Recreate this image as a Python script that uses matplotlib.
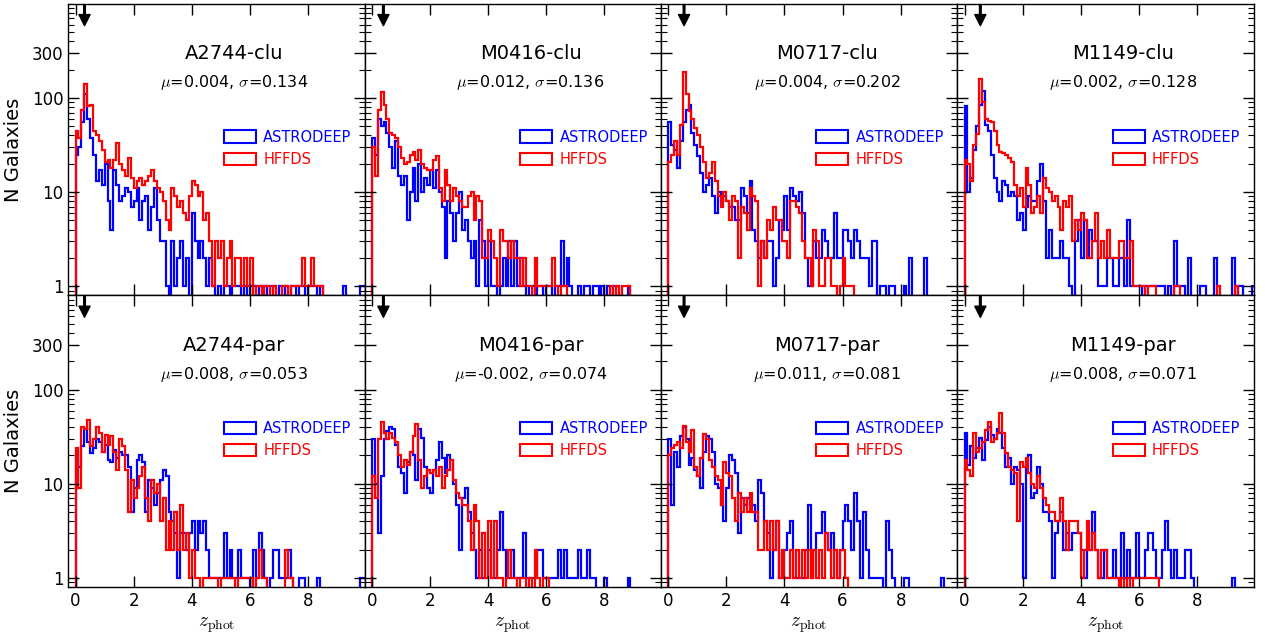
import numpy as np
import matplotlib.pyplot as plt
from matplotlib.patches import Patch
from matplotlib.ticker import LogLocator, NullFormatter

plt.rcParams['mathtext.fontset'] = 'cm'

# --- podaci (ocitani s grafa), binovi sirine 0.1 od z=0 ---
bin_width = 0.1
fields = ['A2744', 'M0416', 'M0717', 'M1149']
z_cluster = [0.308, 0.396, 0.545, 0.543]
mu_clu = [0.004, 0.012, 0.004, 0.002]
sigma_clu = [0.134, 0.136, 0.202, 0.128]
mu_par = [0.008, -0.002, 0.011, 0.008]
sigma_par = [0.053, 0.074, 0.081, 0.071]

a2744_clu_astrodeep = [
    25, 30, 55, 110, 60, 38, 25, 13, 17, 12,
    20, 8, 4, 17, 12, 8, 9, 11, 10, 7,
    8, 11, 5, 8, 9, 4, 7, 11, 5, 3,
    3, 1, 0, 3, 1, 2, 3, 1, 2, 0,
    6, 3, 2, 3, 2, 1, 2, 1, 0, 1,
    0, 1, 1, 0, 1, 1, 1, 0, 1, 0,
    1, 1, 0, 1, 0, 1, 0, 1, 1, 0,
    1, 0, 1, 0, 1, 1, 0, 1, 1, 0,
    1, 1, 1, 0, 1, 0, 0, 0, 0, 0,
    0, 0, 1, 0, 0, 0, 0, 0, 1, 1]
a2744_clu_hffds = [
    45, 38, 75, 141, 82, 85, 45, 40, 35, 28,
    21, 22, 18, 22, 33, 20, 17, 15, 23, 14,
    11, 13, 14, 12, 13, 15, 17, 13, 11, 10,
    8, 5, 4, 11, 9, 7, 8, 6, 5, 9,
    13, 12, 9, 10, 5, 6, 3, 1, 3, 2,
    3, 1, 2, 3, 1, 2, 2, 1, 2, 1,
    2, 0, 1, 1, 0, 1, 1, 0, 1, 0,
    0, 1, 1, 0, 1, 1, 1, 1, 2, 1,
    1, 2, 1, 1, 1]

m0416_clu_astrodeep = [
    38, 25, 60, 50, 55, 42, 30, 18, 35, 15,
    12, 15, 5, 10, 18, 8, 20, 10, 14, 12,
    17, 11, 17, 10, 7, 2, 8, 6, 3, 6,
    10, 4, 5, 3, 2, 3, 1, 5, 3, 1,
    3, 1, 1, 0, 1, 2, 1, 3, 1, 3,
    1, 2, 1, 0, 1, 1, 0, 1, 1, 0,
    1, 1, 0, 1, 1, 3, 1, 2, 1, 0,
    0, 1, 0, 1, 1, 0, 1, 1, 0, 1,
    0, 1, 0, 1, 1, 0, 0, 0, 1]
m0416_clu_hffds = [
    30, 15, 75, 115, 85, 60, 42, 40, 38, 30,
    23, 20, 21, 25, 27, 22, 28, 20, 18, 17,
    17, 22, 24, 11, 8, 17, 12, 8, 11, 9,
    8, 7, 7, 9, 10, 5, 9, 8, 2, 2,
    4, 3, 2, 1, 4, 3, 3, 2, 3, 2,
    2, 1, 2, 1, 1, 0, 2, 1, 1, 1,
    1, 1, 2, 1, 0, 1, 1, 0, 0, 0,
    0, 0, 0, 0, 0, 0, 0, 0, 0, 0,
    0, 0, 1, 0, 1, 0, 1, 1, 1]

m0717_clu_astrodeep = [
    55, 32, 28, 18, 35, 55, 75, 85, 42, 32,
    24, 16, 10, 12, 14, 9, 6, 10, 8, 9,
    8, 7, 7, 5, 5, 11, 9, 6, 13, 4,
    3, 2, 3, 2, 3, 3, 1, 2, 5, 4,
    9, 4, 11, 9, 8, 10, 6, 2, 1, 1,
    3, 2, 2, 4, 3, 2, 2, 6, 2, 2,
    4, 4, 3, 2, 4, 3, 2, 2, 2, 1,
    3, 3, 0, 1, 1, 0, 1, 1, 0, 0,
    0, 1, 0, 2, 0, 0, 0, 0, 2]
m0717_clu_hffds = [
    21, 25, 35, 25, 52, 190, 110, 73, 60, 48,
    40, 30, 21, 14, 16, 21, 13, 9, 7, 10,
    8, 5, 9, 8, 2, 7, 6, 4, 11, 9,
    8, 1, 3, 2, 5, 4, 7, 5, 5, 3,
    3, 2, 8, 8, 7, 6, 3, 2, 2, 1,
    4, 3, 1, 1, 2, 2, 1, 1, 0, 1,
    2, 1, 1, 1]

m1149_clu_astrodeep = [
    82, 10, 14, 28, 50, 85, 118, 52, 45, 25,
    14, 10, 8, 13, 12, 9, 10, 9, 5, 6,
    4, 7, 9, 8, 8, 13, 20, 8, 2, 4,
    2, 2, 2, 3, 2, 2, 1, 0, 3, 5,
    2, 5, 2, 4, 3, 3, 1, 1, 1, 2,
    2, 1, 1, 2, 2, 1, 5, 1, 1, 1,
    1, 0, 1, 1, 1, 1, 1, 1, 1, 0,
    1, 0, 3, 1, 1, 1, 0, 2, 0, 0,
    0, 1, 1, 0, 0, 0, 2, 0, 0, 0,
    0, 0, 2, 0, 1, 1, 0, 0, 0, 1]
m1149_clu_hffds = [
    22, 20, 13, 32, 41, 160, 90, 60, 57, 55,
    45, 32, 27, 26, 25, 23, 21, 12, 9, 11,
    7, 18, 12, 6, 7, 9, 6, 14, 11, 10,
    8, 9, 7, 4, 8, 7, 9, 3, 5, 4,
    6, 5, 2, 2, 3, 6, 2, 3, 2, 4,
    2, 2, 2, 3, 3, 2, 2, 3, 1, 1,
    1, 1, 0, 1, 1, 1, 0, 0, 0, 0,
    0, 0, 1, 1, 0, 0, 0, 0, 0, 0,
    0, 0, 0, 0, 0, 0, 0, 1, 0, 0,
    0, 0, 0, 1]

a2744_par_astrodeep = [
    22, 15, 25, 38, 28, 21, 24, 30, 28, 22,
    26, 18, 17, 23, 19, 22, 20, 20, 15, 5,
    9, 18, 20, 17, 5, 11, 9, 6, 8, 11,
    14, 12, 5, 4, 3, 1, 3, 3, 2, 3,
    4, 2, 4, 3, 4, 2, 1, 1, 1, 1,
    1, 3, 1, 2, 1, 1, 2, 1, 1, 1,
    0, 2, 1, 3, 2, 1, 0, 1, 2, 2,
    1, 1, 1, 2, 1, 0, 0, 1, 1, 0,
    0, 0, 0, 1, 0, 0, 0, 0, 0, 0,
    0, 0, 0, 0, 0, 0, 0, 0, 1, 1]
a2744_par_hffds = [
    24, 9, 40, 38, 48, 25, 30, 40, 35, 22,
    33, 26, 32, 22, 14, 30, 25, 14, 5, 11,
    7, 9, 12, 15, 7, 4, 11, 8, 10, 4,
    7, 2, 4, 2, 5, 2, 6, 2, 3, 1,
    2, 1, 1, 0, 1, 1, 1, 1, 1, 0,
    1, 1, 1, 1, 1, 0, 1, 1, 1, 1,
    1, 0, 1, 2, 1, 1, 0, 0, 0, 0,
    0, 0, 2, 1, 1]

m0416_par_astrodeep = [
    30, 10, 3, 12, 30, 36, 40, 38, 26, 15,
    13, 8, 17, 22, 20, 11, 38, 31, 15, 9,
    8, 14, 18, 28, 19, 13, 20, 18, 10, 6,
    2, 7, 9, 5, 3, 2, 1, 2, 1, 1,
    2, 1, 1, 2, 5, 2, 1, 1, 2, 1,
    1, 1, 3, 1, 1, 1, 1, 2, 2, 1,
    1, 1, 1, 1, 2, 1, 2, 1, 1, 1,
    1, 2, 1, 1, 2, 1, 1, 0, 0, 0,
    1, 0, 0, 0, 0, 0, 0, 0, 1]
m0416_par_hffds = [
    12, 7, 30, 45, 35, 30, 35, 31, 28, 20,
    15, 18, 16, 22, 32, 43, 18, 9, 12, 14,
    13, 14, 12, 15, 9, 12, 14, 18, 11, 8,
    7, 6, 6, 4, 2, 6, 4, 1, 3, 1,
    4, 1, 4, 1, 1, 0, 1, 2, 1, 1,
    0, 1, 1, 0, 1, 0, 2, 1, 0, 1,
    1]

m0717_par_astrodeep = [
    30, 6, 22, 15, 32, 40, 30, 16, 19, 14,
    12, 9, 22, 32, 30, 22, 10, 9, 6, 4,
    9, 20, 18, 13, 3, 7, 6, 7, 6, 6,
    4, 11, 8, 4, 3, 1, 2, 4, 1, 1,
    2, 3, 4, 1, 1, 1, 1, 2, 6, 1,
    2, 3, 3, 5, 3, 2, 3, 2, 1, 2,
    4, 6, 4, 2, 8, 4, 1, 5, 2, 1,
    1, 1, 1, 1, 0, 4, 2, 1, 0, 0,
    0, 1, 1, 0, 0, 0, 0, 0, 0, 0,
    0, 0, 0, 0, 1]
m0717_par_hffds = [
    20, 24, 26, 28, 24, 41, 28, 22, 37, 15,
    12, 19, 34, 30, 18, 15, 12, 11, 6, 17,
    13, 12, 7, 4, 8, 5, 7, 5, 8, 5,
    5, 2, 2, 4, 2, 4, 2, 4, 1, 2,
    1, 1, 2, 1, 2, 1, 2, 1, 2, 1,
    2, 1, 2, 1, 3, 2, 1, 2, 1, 2,
    2, 1]

m1149_par_astrodeep = [
    35, 16, 25, 19, 24, 31, 18, 29, 40, 33,
    30, 38, 35, 24, 15, 19, 10, 15, 14, 10,
    1, 16, 20, 7, 8, 15, 10, 5, 5, 4,
    1, 3, 4, 5, 2, 3, 2, 3, 3, 3,
    2, 1, 2, 2, 5, 2, 1, 1, 2, 1,
    1, 2, 1, 1, 3, 1, 2, 1, 1, 3,
    1, 1, 2, 3, 3, 2, 1, 1, 2, 4,
    2, 1, 2, 1, 1, 1, 2, 2, 1, 0,
    0, 0, 0, 0, 0, 0, 0, 0, 0, 0,
    0, 0, 1]
m1149_par_hffds = [
    18, 14, 12, 35, 22, 24, 28, 37, 45, 28,
    30, 35, 57, 35, 21, 15, 14, 13, 4, 17,
    15, 19, 13, 10, 9, 12, 9, 7, 6, 5,
    5, 4, 4, 7, 4, 2, 4, 4, 4, 3,
    1, 2, 4, 2, 3, 2, 1, 2, 2, 1,
    1, 1, 1, 0, 1, 0, 1, 0, 1, 1,
    1, 1, 1, 1, 1, 1, 1]

astrodeep_clu = [a2744_clu_astrodeep, m0416_clu_astrodeep, m0717_clu_astrodeep, m1149_clu_astrodeep]
hffds_clu = [a2744_clu_hffds, m0416_clu_hffds, m0717_clu_hffds, m1149_clu_hffds]
astrodeep_par = [a2744_par_astrodeep, m0416_par_astrodeep, m0717_par_astrodeep, m1149_par_astrodeep]
hffds_par = [a2744_par_hffds, m0416_par_hffds, m0717_par_hffds, m1149_par_hffds]


def draw_hist(ax, counts, color):
    counts = np.array(counts, dtype=float)
    edges = np.arange(len(counts) + 1) * bin_width
    # prazni binovi padaju ispod osi (log skala)
    shown = np.where(counts > 0, counts, 0.1)
    ax.stairs(shown, edges, baseline=0.1, color=color, lw=1.6)


fig, axes = plt.subplots(2, 4, figsize=(12.65, 6.34), dpi=100)
fig.subplots_adjust(left=0.054, right=0.991, bottom=0.074, top=0.994, wspace=0, hspace=0)

for row, (kind, astro, hffds, mus, sigs) in enumerate([
        ('clu', astrodeep_clu, hffds_clu, mu_clu, sigma_clu),
        ('par', astrodeep_par, hffds_par, mu_par, sigma_par)]):
    for col in range(4):
        ax = axes[row, col]
        draw_hist(ax, astro[col], 'b')
        draw_hist(ax, hffds[col], 'r')

        ax.set_yscale('log')
        ax.set_ylim(0.8, 1000)
        ax.set_xlim(-0.25, 9.95)
        ax.set_xticks([0, 2, 4, 6, 8])
        ax.set_yticks([1, 10, 100, 300], labels=['1', '10', '100', '300'])
        ax.yaxis.set_minor_locator(LogLocator(base=10, subs=np.arange(2, 10)))
        ax.yaxis.set_minor_formatter(NullFormatter())
        ax.tick_params(which='both', direction='in', top=True, right=True, labelsize=12)
        ax.tick_params(which='major', length=8, width=1)
        ax.tick_params(which='minor', length=4, width=0.8)
        for s in ax.spines.values():
            s.set_linewidth(1.0)

        if col > 0:
            ax.tick_params(labelleft=False)
        else:
            ax.set_ylabel('N Galaxies', fontsize=14, labelpad=6)
        if row == 0:
            ax.tick_params(labelbottom=False)
        else:
            ax.set_xlabel(r'$z_{\rm phot}$', fontsize=14)

        ax.text(0.56, 0.83, f'{fields[col]}-{kind}', transform=ax.transAxes,
                ha='center', va='center', fontsize=14)
        ax.text(0.56, 0.73, rf'$\mu$={mus[col]:.3f}, $\sigma$={sigs[col]:.3f}',
                transform=ax.transAxes, ha='center', va='center', fontsize=11.5)

        # strelica na crvenom pomaku klastera
        ax.annotate('', xy=(z_cluster[col], 0.925), xytext=(z_cluster[col], 0.997),
                    xycoords=('data', 'axes fraction'), textcoords=('data', 'axes fraction'),
                    arrowprops=dict(facecolor='k', edgecolor='k', width=1.2,
                                    headwidth=8, headlength=8, shrink=0))

        handles = [Patch(facecolor='none', edgecolor='b', linewidth=1.5, label='ASTRODEEP'),
                   Patch(facecolor='none', edgecolor='r', linewidth=1.5, label='HFFDS')]
        ax.legend(handles=handles, loc='center right', bbox_to_anchor=(1.0, 0.505),
                  frameon=False, fontsize=10.5, labelcolor=['b', 'r'],
                  handlelength=2.2, handleheight=0.9, handletextpad=0.5, labelspacing=0.5)

fig.savefig('out.png', dpi=100)
